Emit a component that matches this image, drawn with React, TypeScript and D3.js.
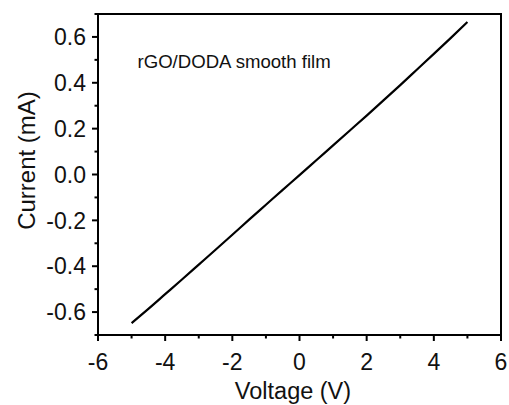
import React from "react";
import * as d3 from "d3";

const voltage = [-5, -4.5, -4, -3.5, -3, -2.5, -2, -1.5, -1, -0.5, 0, 0.5, 1, 1.5, 2, 2.5, 3, 3.5, 4, 4.5, 5];
const current = [-0.648, -0.586, -0.522, -0.458, -0.393, -0.328, -0.263, -0.197, -0.132, -0.067, -0.003, 0.062, 0.127, 0.192, 0.257, 0.323, 0.390, 0.458, 0.526, 0.595, 0.665];
const xMajor = [-6, -4, -2, 0, 2, 4, 6];
const xMinor = [-5, -3, -1, 1, 3, 5];
const yMajor = [-0.6, -0.4, -0.2, 0.0, 0.2, 0.4, 0.6];
const yMinor = [-0.7, -0.5, -0.3, -0.1, 0.1, 0.3, 0.5, 0.7];
const annotation = "rGO/DODA smooth film";
const xTitle = "Voltage (V)";
const yTitle = "Current (mA)";

const W = 509, H = 405;
const L = 98, R = 501, T = 14, B = 335;

export default function App() {
  const x = d3.scaleLinear().domain([-6, 6]).range([L, R]);
  const y = d3.scaleLinear().domain([-0.7, 0.7]).range([B, T]);
  const line = d3.line<number>().x((_, i) => x(voltage[i])).y((d) => y(d)).curve(d3.curveMonotoneX);
  const font = "Arial, 'Liberation Sans', sans-serif";
  return (
    <svg width={W} height={H} style={{ position: "absolute", left: 0, top: 0 }} fontFamily={font}>
      <rect x={0} y={0} width={W} height={H} fill="#fff" />
      <path d={line(current) || ""} fill="none" stroke="#000" strokeWidth={2.2} />
      <rect x={L} y={T} width={R - L} height={B - T} fill="none" stroke="#000" strokeWidth={2} />
      {xMajor.map((v) => (
        <g key={"xm" + v}>
          <line x1={x(v)} x2={x(v)} y1={B} y2={B + 6} stroke="#000" strokeWidth={2} />
          <text x={x(v)} y={370} fontSize={23} textAnchor="middle" fill="#111">
            {v}
          </text>
        </g>
      ))}
      {xMinor.map((v) => (
        <line key={"xn" + v} x1={x(v)} x2={x(v)} y1={B} y2={B + 3.5} stroke="#000" strokeWidth={2} />
      ))}
      {yMajor.map((v) => (
        <g key={"ym" + v}>
          <line x1={L - 6} x2={L} y1={y(v)} y2={y(v)} stroke="#000" strokeWidth={2} />
          <text x={86} y={y(v)} dy="0.36em" fontSize={23} textAnchor="end" fill="#111">
            {v.toFixed(1)}
          </text>
        </g>
      ))}
      {yMinor.map((v) => (
        <line key={"yn" + v} x1={L - 3.5} x2={L} y1={y(v)} y2={y(v)} stroke="#000" strokeWidth={2} />
      ))}
      <text x={137.5} y={68.3} fontSize={18.6} fill="#111">
        {annotation}
      </text>
      <text x={293} y={399} fontSize={23.5} textAnchor="middle" fill="#111">
        {xTitle}
      </text>
      <text transform={`translate(35,160.5) rotate(-90)`} fontSize={24} textAnchor="middle" fill="#111">
        {yTitle}
      </text>
    </svg>
  );
}
